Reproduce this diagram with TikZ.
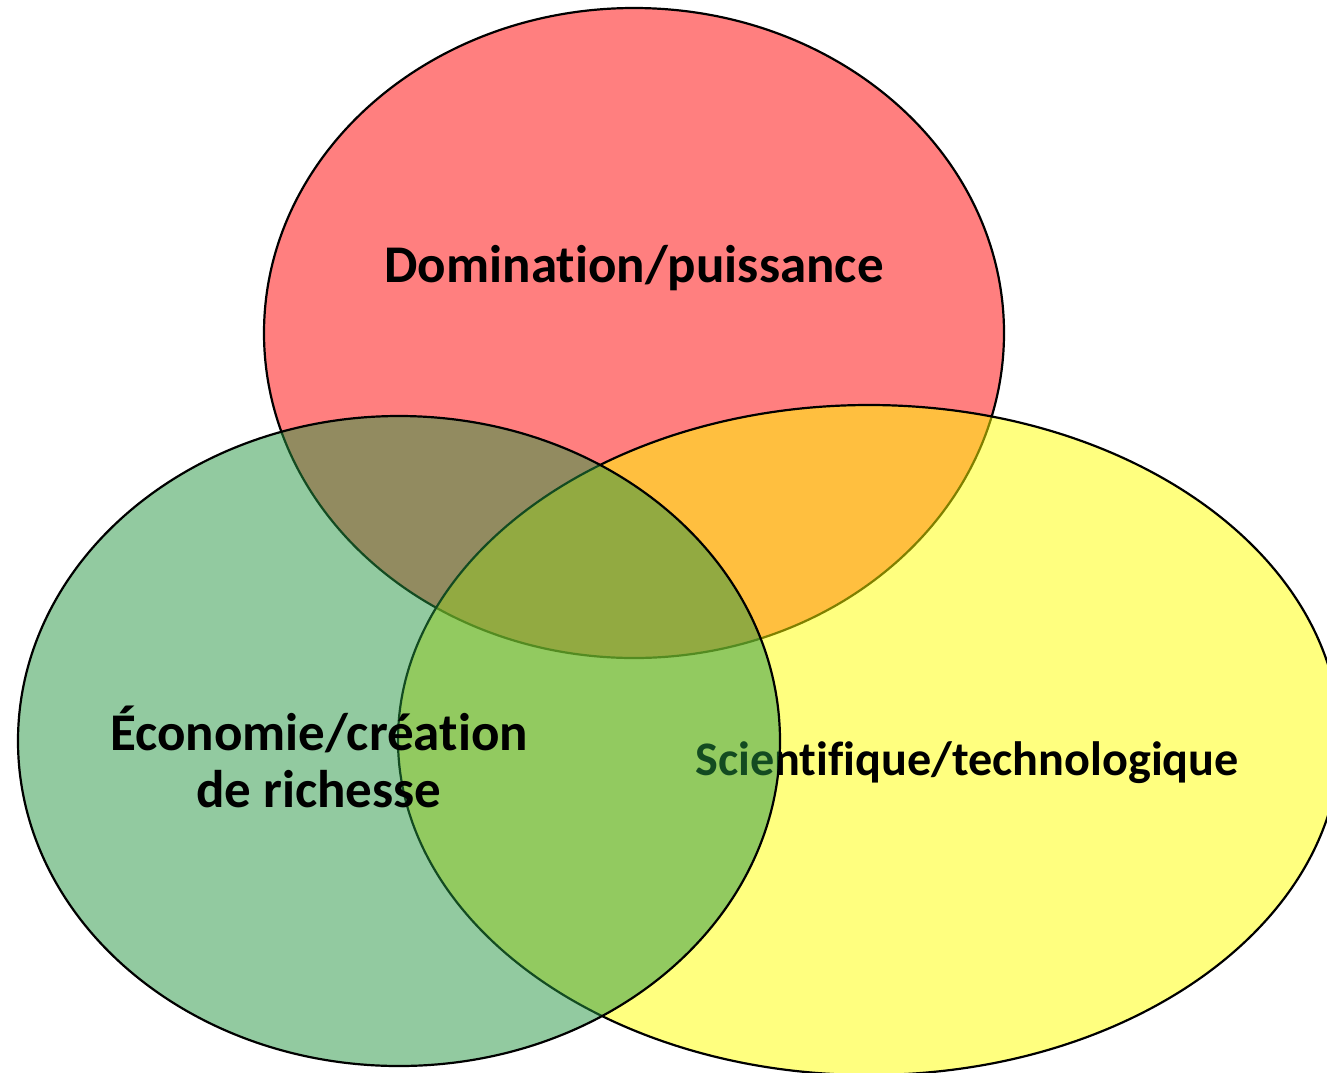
\documentclass[tikz,border=0pt]{standalone}
\usepackage{fontspec}
\setmainfont{Carlito}[Ligatures={NoCommon}]
\begin{document}
\begin{tikzpicture}[x=0.5pt,y=-0.5pt,
  venn/.style={draw=black,line width=1.1pt,fill opacity=0.5,draw opacity=1},
  lbl/.style={font=\bfseries\fontsize{26.5}{28.5}\selectfont,align=center,text=black}]
\definecolor{vred}{RGB}{255,0,0}
\definecolor{vyellow}{RGB}{255,255,0}
\definecolor{vgreen}{RGB}{39,151,67}
\useasboundingbox (0,0) rectangle (1327,1072);
\fill[white] (0,0) rectangle (1327,1072);
% red
\path[venn,fill=vred] (634,333) ellipse [x radius=370, y radius=325];
\node[lbl] (dom) at (634,268) {Domination/puissance};
% yellow
\path[venn,fill=vyellow] (869,740) ellipse [x radius=471, y radius=335];
\node[lbl,font=\bfseries\fontsize{24.1}{28.5}\selectfont] (sci) at (967,763) {Scientifique/technologique};
% green
\path[venn,fill=vgreen] (399,741) ellipse [x radius=381, y radius=325];
\node[lbl] (eco) at (319,757) {Économie/création\\de richesse};
\end{tikzpicture}
\end{document}
